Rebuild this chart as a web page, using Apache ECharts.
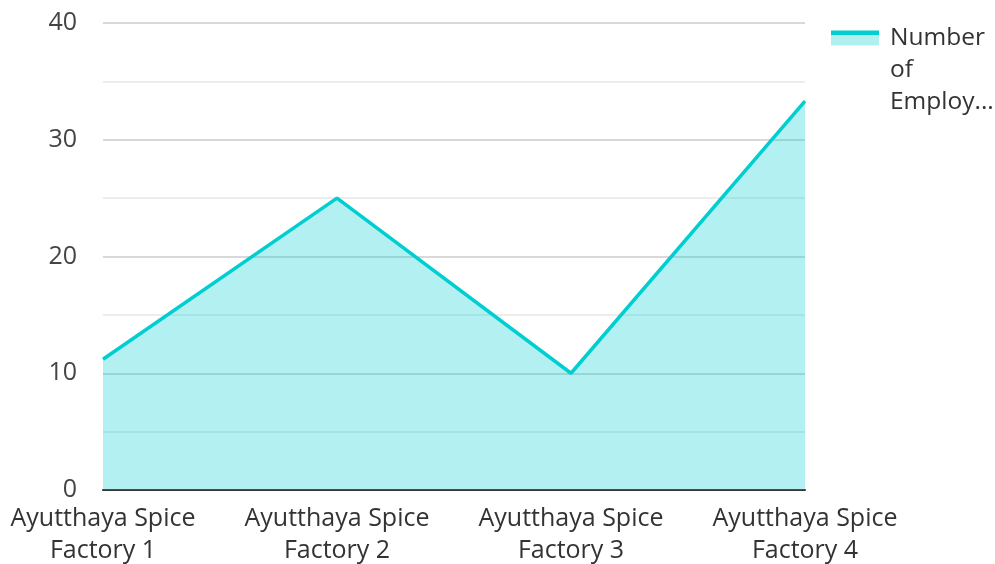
<!DOCTYPE html>
<html>
<head>
<meta charset="utf-8">
<script src="https://cdn.jsdelivr.net/npm/echarts@6/dist/echarts.min.js"></script>
<style>
  html, body { margin: 0; padding: 0; background: #fff; }
  #chart { width: 995px; height: 564px; }
</style>
</head>
<body>
<div id="chart"></div>
<script>
var categories = ['Ayutthaya Spice Factory 1', 'Ayutthaya Spice Factory 2', 'Ayutthaya Spice Factory 3', 'Ayutthaya Spice Factory 4'];
var employees = [11.2, 25, 10, 33.3];
var seriesName = 'Number of Employees';

var chart = echarts.init(document.getElementById('chart'));
chart.setOption({
    color: ['#00CED1'],
    textStyle: { fontFamily: 'Open Sans' },
    legend: {
        left: 831,
        top: -42,
        padding: 0,
        orient: 'vertical',
        icon: 'rect',
        itemWidth: 48,
        itemHeight: 15,
        itemStyle: {
            color: new echarts.graphic.LinearGradient(0, 0, 0, 1, [
                { offset: 0, color: '#00CED1' },
                { offset: 0.27, color: '#00CED1' },
                { offset: 0.27, color: '#b2f0f0' },
                { offset: 1, color: '#b2f0f0' }
            ])
        },
        textStyle: {
            fontSize: 24.5,
            color: '#333',
            lineHeight: 32,
            padding: [0, 0, 0, 6]
        },
        formatter: function (name) {
            // label is clipped to the narrow right column; two blank lines on top
            // keep the first line level with the icon
            return ' \n \nNumber\nof\nEmploy...';
        },
        data: [seriesName]
    },
    grid: {
        left: 103,
        right: 190,
        top: 23,
        bottom: 74,
        outerBoundsMode: 'none'
    },
    xAxis: {
        type: 'category',
        boundaryGap: false,
        data: categories,
        axisTick: { show: false },
        axisLine: { lineStyle: { color: '#333', width: 2 } },
        axisLabel: {
            fontSize: 25,
            color: '#333',
            margin: 13,
            lineHeight: 32,
            interval: 0,
            formatter: function (v) {
                return v.replace(' Factory', '\nFactory');
            }
        }
    },
    yAxis: {
        type: 'value',
        min: 0,
        max: 40,
        interval: 10,
        axisLine: { show: false },
        axisTick: { show: false },
        axisLabel: { fontSize: 25, color: '#444', margin: 26 },
        splitLine: { lineStyle: { color: '#ccc', width: 1.5 } },
        minorTick: { show: false, splitNumber: 2 },
        minorSplitLine: { show: true, lineStyle: { color: '#e8e8e8', width: 1.5 } }
    },
    series: [{
        name: seriesName,
        type: 'line',
        data: employees,
        symbol: 'none',
        lineStyle: { width: 3.5 },
        areaStyle: { opacity: 0.3 }
    }]
});
</script>
</body>
</html>
